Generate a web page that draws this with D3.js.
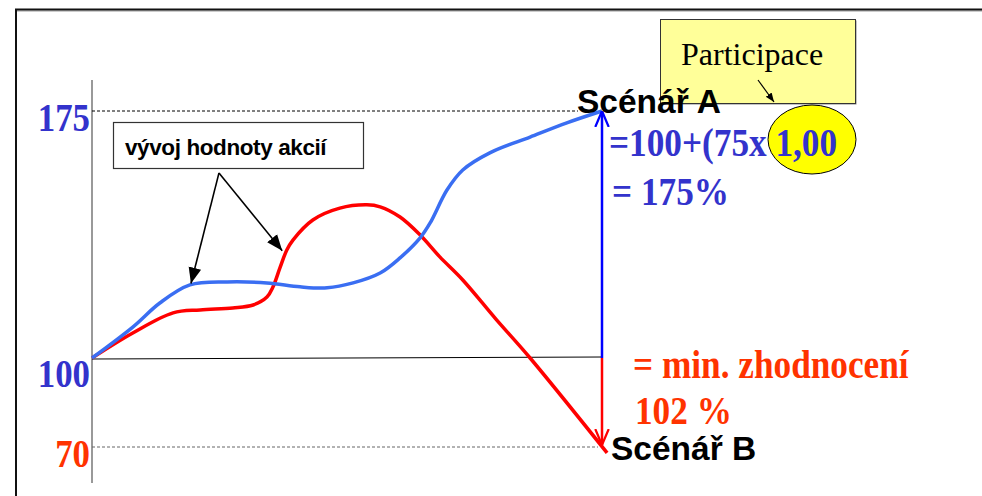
<!DOCTYPE html>
<html><head><meta charset="utf-8">
<script src="https://cdn.jsdelivr.net/npm/d3@7"></script>
<style>body{margin:0;background:#fff} svg{display:block}</style>
</head><body><svg id="c" width="982" height="496"></svg>
<script>
// ---- data ----
const levels = [70, 100, 175];
const levelLabels = ["70", "100", "175"];
const levelColors = ["#FF3300", "#3333CC", "#3333CC"];
const timeA = [0, 8, 13.3, 19.2, 26.5, 34.3, 40.8, 46.1, 51.2, 56.5, 60.4, 64.3, 66.3, 69.6, 72.7, 78, 85.9, 93.1, 100];
const valueA = [100, 109.4, 116.7, 122.2, 123.1, 122.8, 121.6, 121.3, 122.8, 125.8, 130.4, 136.4, 141, 151, 157.1, 162.3, 167.1, 171.4, 175];
const timeB = [0, 8, 15.9, 21.2, 27.6, 31.6, 34.3, 35.5, 36.9, 38.2, 39.4, 43.3, 48.6, 53.9, 56.5, 60.4, 64.3, 68.2, 72.7, 79.2, 85.9, 101];
const valueB = [100, 107.6, 113.7, 114.6, 115.2, 116.1, 118.5, 121.6, 127.6, 132.8, 135.8, 141.9, 145.5, 146.5, 145.9, 142.8, 137.4, 130.7, 123.7, 111.8, 100, 68];
const calloutText = "vývoj hodnoty akcií";
const calloutFrom = [24.9, 156.2];
const calloutTo = [[19.4, 122.6], [37.3, 132.6]];
const scenarioA = "Scénář A";
const scenarioB = "Scénář B";
const formulaA = ["=100+(75x 1,00", "= 175%"];
const formulaB = ["= min. zhodnocení", "102 %"];
const participation = "Participace";

// ---- scales ----
const svg = d3.select("#c");
const x = d3.scaleLinear().domain([0, 100]).range([92, 602]);
const y = d3.scaleLinear().domain([70, 100, 175]).range([447, 358, 111]);
const sans = "Liberation Sans, Arial, sans-serif";
const serif = "Liberation Serif, Times New Roman, serif";
const SX = 0.86;

const defs = svg.append("defs");
function marker(id, color, filled, size) {
  const m = defs.append("marker").attr("id", id).attr("viewBox", "0 0 10 10")
    .attr("refX", 10).attr("refY", 5).attr("markerUnits", "userSpaceOnUse")
    .attr("markerWidth", size).attr("markerHeight", size).attr("orient", "auto");
  if (filled) m.append("path").attr("d", "M0,1 L10,5 L0,9 Z").attr("fill", color);
  else m.append("path").attr("d", "M0,0.8 L10,5 L0,9.2").attr("fill", "none").attr("stroke", color).attr("stroke-width", 1.4);
}
marker("ab", "#000", true, 16);
marker("as", "#000", true, 9);
marker("bl", "#0000FF", false, 16);
marker("rd", "#FF0000", false, 16);

// frame
svg.append("line").attr("x1", 16).attr("x2", 982).attr("y1", 11).attr("y2", 11).attr("stroke", "#999").attr("stroke-width", 1);
svg.append("line").attr("x1", 15).attr("x2", 982).attr("y1", 9.5).attr("y2", 9.5).attr("stroke", "#111").attr("stroke-width", 2);
svg.append("line").attr("x1", 16).attr("x2", 16).attr("y1", 9).attr("y2", 496).attr("stroke", "#111").attr("stroke-width", 2);

// y axis
svg.append("line").attr("x1", x(0)).attr("x2", x(0)).attr("y1", 80).attr("y2", 483).attr("stroke", "#777").attr("stroke-width", 1.5);

// level lines
svg.append("line").attr("x1", x(0)).attr("x2", 578).attr("y1", y(175)).attr("y2", y(175))
  .attr("stroke", "#000").attr("stroke-width", 1).attr("stroke-dasharray", "3,2");
svg.append("line").attr("x1", x(0)).attr("x2", x(100)).attr("y1", y(100) + 1).attr("y2", y(100) - 1)
  .attr("stroke", "#000").attr("stroke-width", 1);
svg.append("line").attr("x1", x(0)).attr("x2", x(100) - 4).attr("y1", y(70)).attr("y2", y(70))
  .attr("stroke", "#666").attr("stroke-width", 1).attr("stroke-dasharray", "3,2");

// level labels (condensed serif)
svg.selectAll("text.lvl").data(levels).enter().append("text").attr("class", "lvl")
  .attr("transform", (d, i) => `translate(90,${y(d) + [20, 29, 20][i]}) scale(0.85,1)`)
  .attr("text-anchor", "end").attr("font-family", serif)
  .attr("font-weight", "bold").attr("font-size", 41)
  .attr("fill", (d, i) => levelColors[i]).text((d, i) => levelLabels[i]);

// curves
const line = d3.line().x(d => x(d[0])).y(d => y(d[1])).curve(d3.curveCatmullRom.alpha(0.5));
svg.append("path").datum(timeB.map((t, i) => [t, valueB[i]])).attr("d", line)
  .attr("fill", "none").attr("stroke", "#FF0000").attr("stroke-width", 3.5).attr("stroke-linejoin", "round");
svg.append("path").datum(timeA.map((t, i) => [t, valueA[i]])).attr("d", line)
  .attr("fill", "none").attr("stroke", "#3A6EF2").attr("stroke-width", 3.5).attr("stroke-linejoin", "round");

// scenario arrows
svg.append("line").attr("x1", x(100)).attr("x2", x(100)).attr("y1", y(100)).attr("y2", y(175))
  .attr("stroke", "#0000FF").attr("stroke-width", 2.5).attr("marker-end", "url(#bl)");
svg.append("line").attr("x1", x(100)).attr("x2", x(100)).attr("y1", y(100)).attr("y2", y(70) - 2)
  .attr("stroke", "#FF0000").attr("stroke-width", 2.5).attr("marker-end", "url(#rd)");

// callout box
svg.append("rect").attr("x", 113.5).attr("y", 122.5).attr("width", 250).attr("height", 46)
  .attr("fill", "#fff").attr("stroke", "#333").attr("stroke-width", 1.2);
svg.append("text").attr("x", 125).attr("y", 155).attr("font-family", sans)
  .attr("font-weight", "bold").attr("font-size", 22.5).attr("letter-spacing", -0.4).attr("fill", "#000").text(calloutText);
calloutTo.forEach(p => {
  svg.append("line").attr("x1", x(calloutFrom[0])).attr("y1", y(calloutFrom[1]))
    .attr("x2", x(p[0])).attr("y2", y(p[1])).attr("stroke", "#000").attr("stroke-width", 1.6)
    .attr("marker-end", "url(#ab)");
});

// participace box
svg.append("rect").attr("x", 661.5).attr("y", 20.5).attr("width", 195).attr("height", 84).attr("fill", "#888");
svg.append("rect").attr("x", 660.5).attr("y", 19.5).attr("width", 195).attr("height", 84)
  .attr("fill", "#FFFF99").attr("stroke", "#333").attr("stroke-width", 1);
svg.append("text").attr("x", 681).attr("y", 65).attr("font-family", serif)
  .attr("font-size", 32).attr("fill", "#000").text(participation);
svg.append("line").attr("x1", 758).attr("y1", 80).attr("x2", 774).attr("y2", 102)
  .attr("stroke", "#000").attr("stroke-width", 1.2).attr("marker-end", "url(#as)");

// ellipse
svg.append("ellipse").attr("cx", 812).attr("cy", 139.5).attr("rx", 44).attr("ry", 34.5)
  .attr("fill", "#FFFF00").attr("stroke", "#000").attr("stroke-width", 1);

// scenario labels
svg.append("text").attr("x", 577).attr("y", 113).attr("font-family", sans).attr("font-weight", "bold")
  .attr("font-size", 33.5).attr("fill", "#000").text(scenarioA);
svg.append("text").attr("x", 611).attr("y", 460).attr("font-family", sans).attr("font-weight", "bold")
  .attr("font-size", 33.5).attr("fill", "#000").text(scenarioB);

svg.selectAll("text.fa").data(formulaA).enter().append("text").attr("class", "fa")
  .attr("transform", (d, i) => `translate(${[609, 612][i]},${[156, 205][i]}) scale(${SX},1)`)
  .attr("font-family", serif).attr("font-weight", "bold").attr("font-size", 41)
  .attr("fill", "#3333CC").text(d => d);
svg.selectAll("text.fb").data(formulaB).enter().append("text").attr("class", "fb")
  .attr("transform", (d, i) => `translate(${[633, 635][i]},${[378, 424][i]}) scale(${SX},1)`)
  .attr("font-family", serif).attr("font-weight", "bold").attr("font-size", 41)
  .attr("fill", "#FF3300").text(d => d);
</script>
</body></html>
